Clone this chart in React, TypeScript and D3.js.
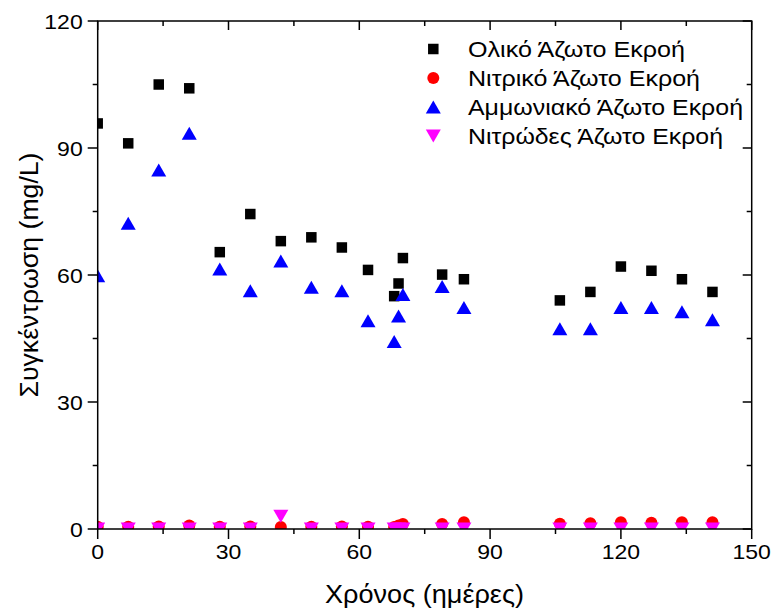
import React from "react";
import * as d3 from "d3";

const days = [0, 7, 14, 21, 28, 35, 42, 49, 56, 62, 68, 69, 70, 79, 84, 106, 113, 120, 127, 134, 141];
const totalN = [95.8, 91.1, 105, 104.1, 65.4, 74.4, 68, 68.9, 66.5, 61.2, 55, 58, 64, 60.1, 59, 54, 56, 62, 61, 59, 56];
const nitrateN = [0.55, 0.55, 0.6, 0.8, 0.55, 0.6, 0.45, 0.55, 0.6, 0.55, 0.5, 0.8, 1.2, 1.2, 1.6, 1.25, 1.35, 1.6, 1.45, 1.6, 1.6];
const ammoniaN = [59.8, 72.2, 84.8, 93.5, 61.4, 56.3, 63.3, 57.1, 56.3, 49.2, 44.3, 50.3, 55.4, 57.3, 52.3, 47.3, 47.3, 52.3, 52.3, 51.3, 49.4];
const nitriteN = [0, 0, 0, 0, 0, 0, 3.0, 0, 0, 0, 0, 0, 0, 0, 0, 0, 0, 0, 0, 0, 0];

const xMajor = [0, 30, 60, 90, 120, 150];
const xMinor = [15, 45, 75, 105, 135];
const yMajor = [0, 30, 60, 90, 120];
const yMinor = [15, 45, 75, 105];

const legendLabels = [
  "Ολικό Άζωτο Εκροή",
  "Νιτρικό Άζωτο Εκροή",
  "Αμμωνιακό Άζωτο Εκροή",
  "Νιτρώδες Άζωτο Εκροή",
];

const W = 771;
const H = 609;
const L = 97.7, R = 751.7, T = 21, B = 529;
const FONT = "'Liberation Sans', Arial, sans-serif";

const x = d3.scaleLinear().domain([0, 150]).range([L, R]);
const y = d3.scaleLinear().domain([0, 120]).range([B, T]);

const SQ = 10.5;
const CR = 6;
const TW = 15, TH = 13;

function triUp(cx: number, cy: number) {
  const p = d3.path();
  p.moveTo(cx, cy - TH / 2);
  p.lineTo(cx + TW / 2, cy + TH / 2);
  p.lineTo(cx - TW / 2, cy + TH / 2);
  p.closePath();
  return p.toString();
}
function triDown(cx: number, cy: number) {
  const p = d3.path();
  p.moveTo(cx, cy + TH / 2);
  p.lineTo(cx + TW / 2, cy - TH / 2);
  p.lineTo(cx - TW / 2, cy - TH / 2);
  p.closePath();
  return p.toString();
}

function Marker({ kind, cx, cy }: { kind: number; cx: number; cy: number }) {
  if (kind === 0) return <rect x={cx - SQ / 2} y={cy - SQ / 2} width={SQ} height={SQ} fill="#000" />;
  if (kind === 1) return <circle cx={cx} cy={cy} r={CR} fill="#ff0000" />;
  if (kind === 2) return <path d={triUp(cx, cy)} fill="#0000ff" />;
  return <path d={triDown(cx, cy)} fill="#ff00ff" />;
}

export default function App() {
  const series = [totalN, nitrateN, ammoniaN, nitriteN];
  const legendY = [49, 78, 107, 136];
  const legendW = [217, 232, 275, 255];
  const sw = 1.5;
  const digitW = 12.8;
  return (
    <svg width={W} height={H} style={{ position: "absolute", left: 0, top: 0, background: "#fff" }} fontFamily={FONT}>
      <rect x={0} y={0} width={W} height={H} fill="#fff" />
      <defs>
        <clipPath id="plotclip">
          <rect x={L} y={T} width={R - L} height={B - T} />
        </clipPath>
      </defs>
      <g clipPath="url(#plotclip)">
        {series.map((s, k) =>
          s.map((v, i) => <Marker key={`${k}-${i}`} kind={k} cx={x(days[i])} cy={y(v)} />)
        )}
      </g>
      <rect x={L} y={T} width={R - L} height={B - T} fill="none" stroke="#000" strokeWidth={sw} />
      {xMajor.map((t) => (
        <g key={"xm" + t}>
          <line x1={x(t)} x2={x(t)} y1={B} y2={B + 10} stroke="#000" strokeWidth={sw} />
          <line x1={x(t)} x2={x(t)} y1={T} y2={T + 9} stroke="#000" strokeWidth={sw} />
          <text x={x(t)} y={B + 30} fontSize={21} textAnchor="middle" fill="#000"
            textLength={String(t).length * digitW} lengthAdjust="spacingAndGlyphs">{t}</text>
        </g>
      ))}
      {xMinor.map((t) => (
        <g key={"xn" + t}>
          <line x1={x(t)} x2={x(t)} y1={B} y2={B + 5} stroke="#000" strokeWidth={sw} />
          <line x1={x(t)} x2={x(t)} y1={T} y2={T + 5} stroke="#000" strokeWidth={sw} />
        </g>
      ))}
      {yMajor.map((t) => (
        <g key={"ym" + t}>
          <line x1={L - 10} x2={L} y1={y(t)} y2={y(t)} stroke="#000" strokeWidth={sw} />
          <line x1={R - 9} x2={R} y1={y(t)} y2={y(t)} stroke="#000" strokeWidth={sw} />
          <text x={L - 15} y={y(t) + 7.5} fontSize={21} textAnchor="end" fill="#000"
            textLength={String(t).length * digitW} lengthAdjust="spacingAndGlyphs">{t}</text>
        </g>
      ))}
      {yMinor.map((t) => (
        <g key={"yn" + t}>
          <line x1={L - 5} x2={L} y1={y(t)} y2={y(t)} stroke="#000" strokeWidth={sw} />
          <line x1={R - 5} x2={R} y1={y(t)} y2={y(t)} stroke="#000" strokeWidth={sw} />
        </g>
      ))}
      <text x={424.5} y={603} fontSize={25} textAnchor="middle" fill="#000"
        textLength={199} lengthAdjust="spacingAndGlyphs">Χρόνος (ημέρες)</text>
      <text transform={`translate(38, ${(T + B) / 2}) rotate(-90)`} fontSize={25} textAnchor="middle" fill="#000"
        textLength={245} lengthAdjust="spacingAndGlyphs">
        Συγκέντρωση (mg/L)
      </text>
      {legendLabels.map((lab, k) => (
        <g key={"lg" + k}>
          <Marker kind={k} cx={433.3} cy={legendY[k]} />
          <text x={468} y={legendY[k] + 7.5} fontSize={21.5} fill="#000"
            textLength={legendW[k]} lengthAdjust="spacingAndGlyphs">{lab}</text>
        </g>
      ))}
    </svg>
  );
}
